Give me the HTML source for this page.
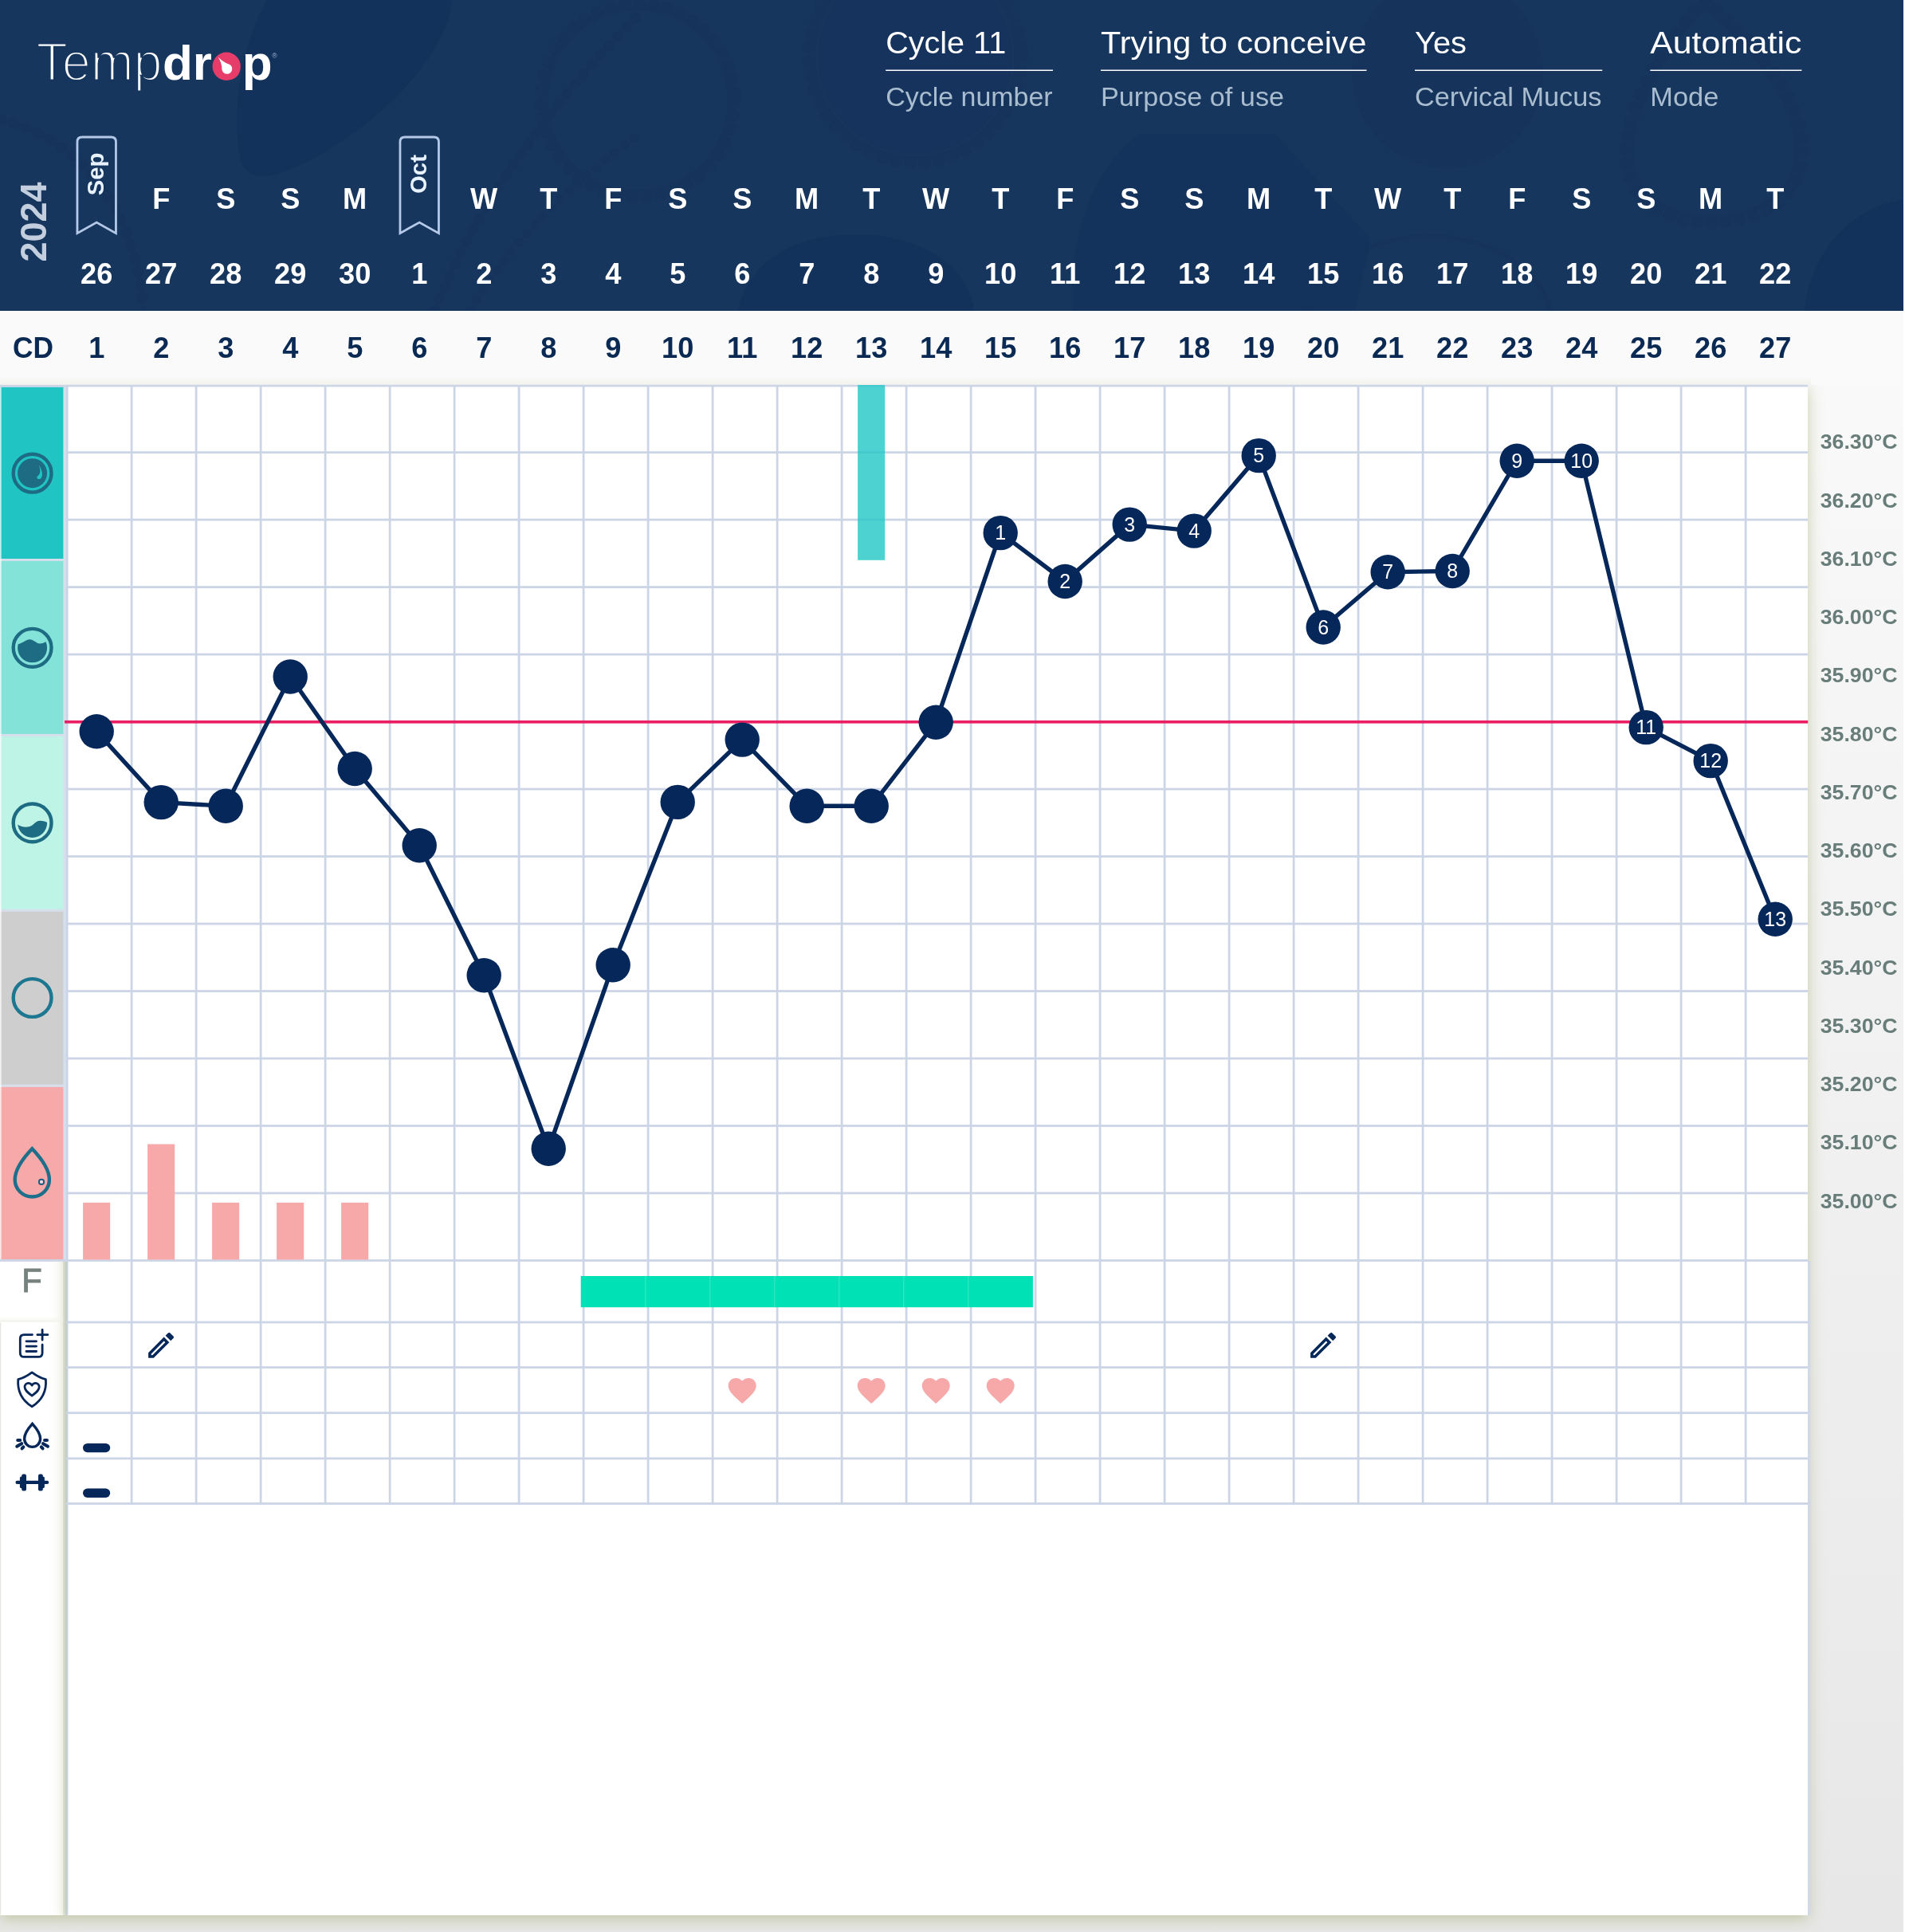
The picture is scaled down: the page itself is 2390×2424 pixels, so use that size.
<!DOCTYPE html>
<html lang="en">
<head>
<meta charset="utf-8">
<title>Tempdrop chart</title>
<style>
html,body{margin:0;padding:0;}
body{width:2390px;height:2424px;overflow:hidden;background:#fff;font-family:'Liberation Sans', sans-serif;position:relative;}
#page{position:absolute;left:0;top:0;width:2388.2px;height:2424px;background:linear-gradient(180deg,#fafafa 0px,#fafafa 389px,#e7e7e7 2424px);overflow:hidden;}
#hdr{position:absolute;left:0;top:0;width:2388.2px;height:389.5px;background:#17365e;overflow:hidden;}
#leftcol{position:absolute;left:0;top:483px;width:84px;height:1919.8px;background:#fff;box-shadow:0 4px 18px rgba(140,150,60,0.42);}
#chart{position:absolute;left:83.8px;top:483px;width:2184.4px;height:1919.8px;background:#fff;box-shadow:0 4px 18px rgba(140,150,60,0.42);}
#cdrow{position:absolute;left:0;top:389.5px;width:2388.2px;height:93.5px;background:#fafafa;}
#ov{position:absolute;left:0;top:0;}
text{font-family:'Liberation Sans', sans-serif;}
.b{font-weight:700;}
</style>
</head>
<body>
<div id="page">
<div id="hdr">
<svg width="2389" height="390" viewBox="0 0 2389 390">
<g fill="#11305b" opacity="0.7">
<path d="M567 0 C 560 70 480 150 400 195 C 350 222 312 235 302 200 C 290 150 300 60 335 0 Z"/>
<path d="M926 390 C 940 320 1010 292 1080 294 C 1150 296 1215 330 1222 390 Z"/>
<path d="M1346 390 C 1340 300 1370 210 1430 168 L 1600 168 L 1720 300 L 1700 390 Z" opacity="0.6"/>
<path d="M2264 390 C 2270 320 2320 260 2389 250 L 2389 390 Z"/>
<circle cx="1148" cy="71" r="122" opacity="0.35"/>
</g>
<g fill="#15325a" opacity="0.6">
<circle cx="1816" cy="91" r="120"/>
</g>
<g fill="none" stroke="#14315a" stroke-linecap="round" opacity="0.45">
<path d="M545 390 C 600 250 700 120 800 20" stroke-width="13" stroke-dasharray="1 15"/>
<path d="M545 390 C 600 250 700 120 800 20" stroke-width="5"/>
<path d="M590 390 C 640 300 730 220 800 170" stroke-width="11" stroke-dasharray="1 14"/>
<circle cx="800" cy="126" r="122" stroke-width="15" stroke-dasharray="1 17"/>
<circle cx="800" cy="126" r="116" stroke-width="6"/>
<circle cx="1148" cy="71" r="134" stroke-width="15" stroke-dasharray="1 17"/>
<circle cx="1148" cy="71" r="128" stroke-width="6"/>
<path d="M2139 0 C 2080 60 2030 150 2040 210 C 2050 260 2100 282 2150 280 C 2210 278 2262 250 2262 190 C 2262 120 2200 50 2139 0 Z" stroke-width="15" stroke-dasharray="1 17"/>
<path d="M2139 8 C 2086 64 2038 150 2048 208 C 2058 254 2104 274 2150 272 C 2206 270 2254 244 2254 190 C 2254 124 2196 56 2139 8 Z" stroke-width="5"/>
<path d="M0 150 C 90 170 170 250 180 390" stroke-width="14" stroke-dasharray="1 16"/>
<path d="M0 150 C 90 170 170 250 180 390" stroke-width="5"/>
<path d="M1640 390 C 1660 330 1720 298 1790 296 C 1860 296 1930 330 1945 390" stroke-width="5"/>
</g>
</svg>
</div>
<div id="leftcol"></div>
<div id="chart"></div>
<div id="cdrow"></div>

<svg id="ov" width="2390" height="2424" viewBox="0 0 2390 2424">
<g id="logo">
<text x="45.4" y="101" font-size="67.7" fill="#ffffff" textLength="158.2" lengthAdjust="spacingAndGlyphs" stroke="#17365e" stroke-width="2.9" paint-order="fill">Temp</text>
<text x="203.9" y="99.6" font-size="62" font-weight="700" fill="#ffffff">dr<tspan fill="#e63c6a">o</tspan>p</text>
<circle cx="284.1" cy="83.2" r="17.6" fill="#e63c6a"/>
<circle cx="284.8" cy="86.4" r="6.4" fill="#ffffff"/>
<path d="M273.9 71.8 Q280.3 78.2 286.7 80.4 L278.6 86.6 Q278.3 79.8 273.9 71.8 Z" fill="#ffffff"/>
<text x="341.2" y="72.9" font-size="8.6" fill="#9fb3cf">®</text>
</g>
<text x="1111.2" y="67.2" font-size="39.5" fill="#ffffff" textLength="151.0" lengthAdjust="spacingAndGlyphs">Cycle 11</text>
<rect x="1111.2" y="87.5" width="209.8" height="1.5" fill="#ffffff"/>
<text x="1111.2" y="133.3" font-size="33.5" fill="#a9bdcf" textLength="209.5" lengthAdjust="spacingAndGlyphs">Cycle number</text>
<text x="1381.0" y="67.2" font-size="39.5" fill="#ffffff" textLength="333.4" lengthAdjust="spacingAndGlyphs">Trying to conceive</text>
<rect x="1381.0" y="87.5" width="333.5" height="1.5" fill="#ffffff"/>
<text x="1381.0" y="133.3" font-size="33.5" fill="#a9bdcf" textLength="230.0" lengthAdjust="spacingAndGlyphs">Purpose of use</text>
<text x="1775.0" y="67.2" font-size="39.5" fill="#ffffff" textLength="65.0" lengthAdjust="spacingAndGlyphs">Yes</text>
<rect x="1775.0" y="87.5" width="235.2" height="1.5" fill="#ffffff"/>
<text x="1775.0" y="133.3" font-size="33.5" fill="#a9bdcf" textLength="234.5" lengthAdjust="spacingAndGlyphs">Cervical Mucus</text>
<text x="2070.3" y="67.2" font-size="39.5" fill="#ffffff" textLength="190.0" lengthAdjust="spacingAndGlyphs">Automatic</text>
<rect x="2070.3" y="87.5" width="190.1" height="1.5" fill="#ffffff"/>
<text x="2070.3" y="133.3" font-size="33.5" fill="#a9bdcf" textLength="86.0" lengthAdjust="spacingAndGlyphs">Mode</text>
<text transform="translate(57.6 278.6) rotate(-90)" text-anchor="middle" font-size="46" class="b" fill="#c3cfdf" textLength="100" lengthAdjust="spacingAndGlyphs">2024</text>
<path d="M96.95 292.6 V178.00 Q96.95 172.0 102.95 172.0 H139.45 Q145.45 172.0 145.45 178.00 V292.6 L121.20 279.0 Z" fill="none" stroke="#b4c9e8" stroke-width="2.8" stroke-linejoin="miter"/>
<text transform="translate(129.60 218.5) rotate(-90)" text-anchor="middle" font-size="29.3" class="b" fill="#e8f3ff">Sep</text>
<path d="M501.95 292.6 V178.00 Q501.95 172.0 507.95 172.0 H544.45 Q550.45 172.0 550.45 178.00 V292.6 L526.20 279.0 Z" fill="none" stroke="#b4c9e8" stroke-width="2.8" stroke-linejoin="miter"/>
<text transform="translate(534.60 218.5) rotate(-90)" text-anchor="middle" font-size="29.3" class="b" fill="#e8f3ff">Oct</text>
<g class="b" font-size="36.2" text-anchor="middle" fill="#ffffff">
<text x="121.2" y="355.7">26</text>
<text x="202.2" y="262.3">F</text>
<text x="202.2" y="355.7">27</text>
<text x="283.2" y="262.3">S</text>
<text x="283.2" y="355.7">28</text>
<text x="364.2" y="262.3">S</text>
<text x="364.2" y="355.7">29</text>
<text x="445.2" y="262.3">M</text>
<text x="445.2" y="355.7">30</text>
<text x="526.2" y="355.7">1</text>
<text x="607.2" y="262.3">W</text>
<text x="607.2" y="355.7">2</text>
<text x="688.2" y="262.3">T</text>
<text x="688.2" y="355.7">3</text>
<text x="769.2" y="262.3">F</text>
<text x="769.2" y="355.7">4</text>
<text x="850.2" y="262.3">S</text>
<text x="850.2" y="355.7">5</text>
<text x="931.2" y="262.3">S</text>
<text x="931.2" y="355.7">6</text>
<text x="1012.2" y="262.3">M</text>
<text x="1012.2" y="355.7">7</text>
<text x="1093.2" y="262.3">T</text>
<text x="1093.2" y="355.7">8</text>
<text x="1174.2" y="262.3">W</text>
<text x="1174.2" y="355.7">9</text>
<text x="1255.2" y="262.3">T</text>
<text x="1255.2" y="355.7">10</text>
<text x="1336.2" y="262.3">F</text>
<text x="1336.2" y="355.7">11</text>
<text x="1417.2" y="262.3">S</text>
<text x="1417.2" y="355.7">12</text>
<text x="1498.2" y="262.3">S</text>
<text x="1498.2" y="355.7">13</text>
<text x="1579.2" y="262.3">M</text>
<text x="1579.2" y="355.7">14</text>
<text x="1660.2" y="262.3">T</text>
<text x="1660.2" y="355.7">15</text>
<text x="1741.2" y="262.3">W</text>
<text x="1741.2" y="355.7">16</text>
<text x="1822.2" y="262.3">T</text>
<text x="1822.2" y="355.7">17</text>
<text x="1903.2" y="262.3">F</text>
<text x="1903.2" y="355.7">18</text>
<text x="1984.2" y="262.3">S</text>
<text x="1984.2" y="355.7">19</text>
<text x="2065.2" y="262.3">S</text>
<text x="2065.2" y="355.7">20</text>
<text x="2146.2" y="262.3">M</text>
<text x="2146.2" y="355.7">21</text>
<text x="2227.2" y="262.3">T</text>
<text x="2227.2" y="355.7">22</text>
</g>
<defs><linearGradient id="ts" x1="0" x2="0" y1="0" y2="1"><stop offset="0" stop-color="rgb(140,150,60)" stop-opacity="0"/><stop offset="1" stop-color="rgb(140,150,60)" stop-opacity="0.07"/></linearGradient></defs>
<rect x="0" y="472" width="2272" height="11" fill="url(#ts)"/>
<g class="b" font-size="36.2" text-anchor="middle" fill="#0a2953">
<text x="41.5" y="449" textLength="51" lengthAdjust="spacingAndGlyphs">CD</text>
<text x="121.2" y="449">1</text>
<text x="202.2" y="449">2</text>
<text x="283.2" y="449">3</text>
<text x="364.2" y="449">4</text>
<text x="445.2" y="449">5</text>
<text x="526.2" y="449">6</text>
<text x="607.2" y="449">7</text>
<text x="688.2" y="449">8</text>
<text x="769.2" y="449">9</text>
<text x="850.2" y="449">10</text>
<text x="931.2" y="449">11</text>
<text x="1012.2" y="449">12</text>
<text x="1093.2" y="449">13</text>
<text x="1174.2" y="449">14</text>
<text x="1255.2" y="449">15</text>
<text x="1336.2" y="449">16</text>
<text x="1417.2" y="449">17</text>
<text x="1498.2" y="449">18</text>
<text x="1579.2" y="449">19</text>
<text x="1660.2" y="449">20</text>
<text x="1741.2" y="449">21</text>
<text x="1822.2" y="449">22</text>
<text x="1903.2" y="449">23</text>
<text x="1984.2" y="449">24</text>
<text x="2065.2" y="449">25</text>
<text x="2146.2" y="449">26</text>
<text x="2227.2" y="449">27</text>
</g>
<rect x="0" y="483" width="84" height="1099" fill="#d6dfec"/>
<rect x="0" y="485.7" width="79.4" height="215.3" fill="#20c5c3"/>
<rect x="0" y="703.9" width="79.4" height="217.0" fill="#84e3d8"/>
<rect x="0" y="923.9" width="79.4" height="216.9" fill="#bef4e5"/>
<rect x="0" y="1143.8" width="79.4" height="216.9" fill="#cecece"/>
<rect x="0" y="1363.8" width="79.4" height="216.3" fill="#f7a8a8"/>
<rect x="0" y="485.7" width="1.7" height="1094.3" fill="#ffffff" fill-opacity="0.72"/>
<rect x="82.9" y="483" width="2.6" height="1099" fill="#cbd4e6"/>
<rect x="83.7" y="1582" width="1.5" height="820.8" fill="#c6d1e3"/>
<rect x="85.2" y="1582" width="1" height="820.8" fill="#e6edf8"/>
<circle cx="40.6" cy="593.7" r="23.9" fill="none" stroke="#1e6b84" stroke-width="4.4"/>
<circle cx="40.6" cy="593.7" r="18.5" fill="#1e6b84"/>
<path d="M48.9 583.4 C53.6 590.7 54.6 598.7 50.1 600.9 C46.8 601.9 45.2 598.9 47.6 596.9 C51.1 594.2 50.9 589.7 48.9 583.4 Z" fill="#20c5c3"/>
<circle cx="40.6" cy="812.8" r="23.9" fill="none" stroke="#1e6b84" stroke-width="4.4"/>
<clipPath id="c2"><circle cx="40.6" cy="812.8" r="18.5"/></clipPath>
<path clip-path="url(#c2)" d="M20.6 808.8 C28.6 807.3 32.6 802.2 37.2 802.2 C42.1 802.2 45.6 807.4 49.8 807.4 C53.6 807.4 56.6 805.8 60.6 803.3 V832.8 H20.6 Z" fill="#1e6b84"/>
<circle cx="40.6" cy="1032.4" r="23.9" fill="none" stroke="#1e6b84" stroke-width="4.4"/>
<clipPath id="c3"><circle cx="40.6" cy="1032.4" r="18.5"/></clipPath>
<path clip-path="url(#c3)" d="M20.6 1033.4 C25.6 1037.4 30.6 1038.0 34.6 1037.6 C42.6 1036.6 43.6 1029.9 50.6 1029.8 C54.6 1029.8 57.6 1030.9 60.6 1032.9 V1052.4 H20.6 Z" fill="#1e6b84"/>
<circle cx="40.6" cy="1252.0" r="23.9" fill="none" stroke="#1d7791" stroke-width="4.4"/>
<path d="M40.3 1441.2 C 30 1452 18.7 1466 18.7 1480 C 18.7 1492 28.4 1501.5 40.3 1501.5 C 52.2 1501.5 61.9 1492 61.9 1480 C 61.9 1466 50.6 1452 40.3 1441.2 Z" fill="none" stroke="#1d6f8a" stroke-width="4.4" stroke-linejoin="miter"/>
<circle cx="52" cy="1482.9" r="3.1" fill="#fbdcd8" stroke="#1d5f80" stroke-width="2"/>
<defs><linearGradient id="fb" x1="0" x2="0" y1="0" y2="1"><stop offset="0" stop-color="#f4f4ec" stop-opacity="0"/><stop offset="1" stop-color="#f3f3ea" stop-opacity="1"/></linearGradient><linearGradient id="le" x1="0" x2="1" y1="0" y2="0"><stop offset="0" stop-color="#d9dbd3"/><stop offset="1" stop-color="#ffffff" stop-opacity="0"/></linearGradient></defs>
<rect x="0" y="1652" width="80" height="6.6" fill="url(#fb)"/>
<rect x="0" y="1659.2" width="2.6" height="743.6" fill="url(#le)"/>
<text x="40" y="1621" font-size="41.8" text-anchor="middle" fill="#76827f" stroke="#76827f" stroke-width="0.9">F</text>
<g fill="none" stroke="#062759" stroke-width="2.8" stroke-linecap="round" stroke-linejoin="round">
<path d="M40.5 1674.6 H30.3 Q25.3 1674.6 25.3 1679.6 V1697.4 Q25.3 1702.4 30.3 1702.4 H48.1 Q53.1 1702.4 53.1 1697.4 V1687.2"/>
<path d="M46.9 1674.7 H59.9 M53.1 1668.3 V1681.2"/>
<path d="M33 1682.8 H45.6 M33 1689.1 H45.6 M33 1695.5 H45.6"/>
<path d="M40.1 1721.9 C 34 1726.5 28 1729.3 22.8 1730.6 C 21.5 1746 27 1756.5 40.1 1764.8 C 53.2 1756.5 58.7 1746 57.4 1730.6 C 52.2 1729.3 46.2 1726.5 40.1 1721.9 Z"/>
<path d="M40.1 1751.2 C 35.5 1747.6 31 1744.6 31 1740.3 C 31 1737.3 33.2 1735.4 35.6 1735.4 C 37.5 1735.4 39.2 1736.5 40.1 1738.2 C 41 1736.5 42.7 1735.4 44.6 1735.4 C 47 1735.4 49.2 1737.3 49.2 1740.3 C 49.2 1744.6 44.7 1747.6 40.1 1751.2 Z"/>
</g>
<path d="M40.6 1786.3 C 35 1792.5 30.6 1798.5 30.6 1805 C 30.6 1810.8 35 1815.4 40.6 1815.4 C 46.2 1815.4 50.6 1810.8 50.6 1805 C 50.6 1798.5 46.2 1792.5 40.6 1786.3 Z" fill="none" stroke="#062759" stroke-width="3.4" stroke-linejoin="miter"/>
<g stroke="#062759" stroke-width="4" stroke-linecap="round" fill="none">
<path d="M22.2 1806.9 H25.2 M21.2 1814.8 L27.2 1811.2 M27.6 1817.4 L29.4 1815.4"/>
<path d="M59 1806.9 H56 M60 1814.8 L54 1811.2 M53.6 1817.4 L51.8 1815.4"/>
</g>
<g fill="#062759">
<rect x="19.5" y="1857.7" width="41.7" height="4.3" rx="2.1"/>
<rect x="27.2" y="1849.4" width="5.8" height="21.2" rx="2.2"/>
<rect x="24.9" y="1852.6" width="4" height="14.6" rx="2"/>
<rect x="48.0" y="1849.4" width="5.8" height="21.2" rx="2.2"/>
<rect x="51.9" y="1852.6" width="4" height="14.6" rx="2"/>
</g>
<defs><linearGradient id="ls" x1="0" x2="1" y1="0" y2="0"><stop offset="0" stop-color="rgb(140,150,60)" stop-opacity="0"/><stop offset="0.75" stop-color="rgb(140,150,60)" stop-opacity="0.05"/><stop offset="1" stop-color="rgb(130,140,70)" stop-opacity="0.2"/></linearGradient></defs>
<rect x="72" y="1582.5" width="11.8" height="820.3" fill="url(#ls)"/>
<rect x="79.2" y="1582.5" width="4.5" height="820.3" fill="rgb(150,170,170)" fill-opacity="0.28"/>
<g fill="#ccd5e6">
<rect x="0" y="482.80" width="2268.2" height="2.6"/>
<rect x="82.5" y="566.20" width="2185.7" height="2.8"/>
<rect x="82.5" y="650.69" width="2185.7" height="2.8"/>
<rect x="82.5" y="735.18" width="2185.7" height="2.8"/>
<rect x="82.5" y="819.67" width="2185.7" height="2.8"/>
<rect x="82.5" y="904.16" width="2185.7" height="2.8"/>
<rect x="82.5" y="988.65" width="2185.7" height="2.8"/>
<rect x="82.5" y="1073.14" width="2185.7" height="2.8"/>
<rect x="82.5" y="1157.63" width="2185.7" height="2.8"/>
<rect x="82.5" y="1242.12" width="2185.7" height="2.8"/>
<rect x="82.5" y="1326.61" width="2185.7" height="2.8"/>
<rect x="82.5" y="1411.10" width="2185.7" height="2.8"/>
<rect x="82.5" y="1495.59" width="2185.7" height="2.8"/>
<rect x="0" y="1580.08" width="2268.2" height="2.8"/>
<rect x="83" y="1657.60" width="2188.2" height="2.8"/>
<rect x="83" y="1714.20" width="2188.2" height="2.8"/>
<rect x="83" y="1771.30" width="2188.2" height="2.8"/>
<rect x="83" y="1828.50" width="2188.2" height="2.8"/>
<rect x="83" y="1885.10" width="2188.2" height="2.8"/>
<rect x="163.72" y="483" width="2.75" height="1404.9"/>
<rect x="244.72" y="483" width="2.75" height="1404.9"/>
<rect x="325.73" y="483" width="2.75" height="1404.9"/>
<rect x="406.73" y="483" width="2.75" height="1404.9"/>
<rect x="487.73" y="483" width="2.75" height="1404.9"/>
<rect x="568.73" y="483" width="2.75" height="1404.9"/>
<rect x="649.73" y="483" width="2.75" height="1404.9"/>
<rect x="730.73" y="483" width="2.75" height="1404.9"/>
<rect x="811.73" y="483" width="2.75" height="1404.9"/>
<rect x="892.73" y="483" width="2.75" height="1404.9"/>
<rect x="973.73" y="483" width="2.75" height="1404.9"/>
<rect x="1054.72" y="483" width="2.75" height="1404.9"/>
<rect x="1135.72" y="483" width="2.75" height="1404.9"/>
<rect x="1216.72" y="483" width="2.75" height="1404.9"/>
<rect x="1297.72" y="483" width="2.75" height="1404.9"/>
<rect x="1378.72" y="483" width="2.75" height="1404.9"/>
<rect x="1459.72" y="483" width="2.75" height="1404.9"/>
<rect x="1540.72" y="483" width="2.75" height="1404.9"/>
<rect x="1621.72" y="483" width="2.75" height="1404.9"/>
<rect x="1702.72" y="483" width="2.75" height="1404.9"/>
<rect x="1783.72" y="483" width="2.75" height="1404.9"/>
<rect x="1864.72" y="483" width="2.75" height="1404.9"/>
<rect x="1945.72" y="483" width="2.75" height="1404.9"/>
<rect x="2026.72" y="483" width="2.75" height="1404.9"/>
<rect x="2107.72" y="483" width="2.75" height="1404.9"/>
<rect x="2188.72" y="483" width="2.75" height="1404.9"/>
<rect x="2268.2" y="1582" width="3" height="820.8" fill="#d0d8ea"/>
</g>
<g fill="#f7a9a9">
<rect x="104.1" y="1508.9" width="34.1" height="71.5"/>
<rect x="185.1" y="1435.5" width="34.1" height="144.9"/>
<rect x="266.1" y="1508.9" width="34.1" height="71.5"/>
<rect x="347.1" y="1508.9" width="34.1" height="71.5"/>
<rect x="428.1" y="1508.9" width="34.1" height="71.5"/>
</g>
<rect x="1076.1" y="483" width="34.1" height="219.8" fill="#22c6c6" fill-opacity="0.8"/>
<rect x="728.7" y="1601" width="567.2" height="39.2" fill="#00e2b6"/>
<g fill="#3fe8c6">
<rect x="809.3" y="1601" width="1" height="39.2"/>
<rect x="890.3" y="1601" width="1" height="39.2"/>
<rect x="971.3" y="1601" width="1" height="39.2"/>
<rect x="1052.3" y="1601" width="1" height="39.2"/>
<rect x="1133.3" y="1601" width="1" height="39.2"/>
<rect x="1214.3" y="1601" width="1" height="39.2"/>
</g>
<rect x="81" y="903.9" width="2187.2" height="3.7" fill="#e91e63"/>
<polyline points="121.2,917.8 202.2,1006.6 283.2,1011.3 364.2,849.0 445.2,964.5 526.2,1060.7 607.2,1223.7 688.2,1441.2 769.2,1210.7 850.2,1006.4 931.2,928.1 1012.2,1011.3 1093.2,1011.3 1174.2,906.3 1255.2,668.6 1336.2,729.5 1417.2,658.1 1498.2,666.1 1579.2,571.6 1660.2,787.0 1741.2,717.7 1822.2,716.5 1903.2,578.2 1984.2,578.2 2065.2,912.6 2146.2,954.6 2227.2,1153.3" fill="none" stroke="#062759" stroke-width="5.4" stroke-linejoin="round"/>
<g fill="#062759">
<circle cx="121.2" cy="917.8" r="21.7"/>
<circle cx="202.2" cy="1006.6" r="21.7"/>
<circle cx="283.2" cy="1011.3" r="21.7"/>
<circle cx="364.2" cy="849.0" r="21.7"/>
<circle cx="445.2" cy="964.5" r="21.7"/>
<circle cx="526.2" cy="1060.7" r="21.7"/>
<circle cx="607.2" cy="1223.7" r="21.7"/>
<circle cx="688.2" cy="1441.2" r="21.7"/>
<circle cx="769.2" cy="1210.7" r="21.7"/>
<circle cx="850.2" cy="1006.4" r="21.7"/>
<circle cx="931.2" cy="928.1" r="21.7"/>
<circle cx="1012.2" cy="1011.3" r="21.7"/>
<circle cx="1093.2" cy="1011.3" r="21.7"/>
<circle cx="1174.2" cy="906.3" r="21.7"/>
<circle cx="1255.2" cy="668.6" r="21.7"/>
<circle cx="1336.2" cy="729.5" r="21.7"/>
<circle cx="1417.2" cy="658.1" r="21.7"/>
<circle cx="1498.2" cy="666.1" r="21.7"/>
<circle cx="1579.2" cy="571.6" r="21.7"/>
<circle cx="1660.2" cy="787.0" r="21.7"/>
<circle cx="1741.2" cy="717.7" r="21.7"/>
<circle cx="1822.2" cy="716.5" r="21.7"/>
<circle cx="1903.2" cy="578.2" r="21.7"/>
<circle cx="1984.2" cy="578.2" r="21.7"/>
<circle cx="2065.2" cy="912.6" r="21.7"/>
<circle cx="2146.2" cy="954.6" r="21.7"/>
<circle cx="2227.2" cy="1153.3" r="21.7"/>
</g>
<g font-size="25" text-anchor="middle" fill="#ffffff">
<text x="1255.2" y="677.3">1</text>
<text x="1336.2" y="738.2">2</text>
<text x="1417.2" y="666.8">3</text>
<text x="1498.2" y="674.8">4</text>
<text x="1579.2" y="580.3">5</text>
<text x="1660.2" y="795.7">6</text>
<text x="1741.2" y="726.4">7</text>
<text x="1822.2" y="725.2">8</text>
<text x="1903.2" y="586.9">9</text>
<text x="1984.2" y="586.9">10</text>
<text x="2065.2" y="921.3">11</text>
<text x="2146.2" y="963.3">12</text>
<text x="2227.2" y="1162.0">13</text>
</g>
<path transform="translate(180.8 1666.6) scale(1.772)" d="M14.06 9.02l.92.92L5.92 19H5v-.92l9.06-9.06M17.66 3c-.25 0-.51.1-.7.29l-1.83 1.83 3.75 3.75 1.83-1.83c.39-.39.39-1.02 0-1.41l-2.34-2.34c-.2-.2-.45-.29-.71-.29zm-3.6 3.19L3 17.25V21h3.75L17.81 9.94l-3.75-3.75z" fill="#062759"/>
<path transform="translate(1638.8 1666.6) scale(1.772)" d="M14.06 9.02l.92.92L5.92 19H5v-.92l9.06-9.06M17.66 3c-.25 0-.51.1-.7.29l-1.83 1.83 3.75 3.75 1.83-1.83c.39-.39.39-1.02 0-1.41l-2.34-2.34c-.2-.2-.45-.29-.71-.29zm-3.6 3.19L3 17.25V21h3.75L17.81 9.94l-3.75-3.75z" fill="#062759"/>
<path transform="translate(910.2 1723.7) scale(1.75)" d="M12 21.35l-1.45-1.32C5.4 15.36 2 12.28 2 8.5 2 5.42 4.42 3 7.5 3c1.74 0 3.41.81 4.5 2.09C13.09 3.81 14.76 3 16.5 3 19.58 3 22 5.42 22 8.5c0 3.78-3.4 6.86-8.55 11.54L12 21.35z" fill="#f7a8a8"/>
<path transform="translate(1072.2 1723.7) scale(1.75)" d="M12 21.35l-1.45-1.32C5.4 15.36 2 12.28 2 8.5 2 5.42 4.42 3 7.5 3c1.74 0 3.41.81 4.5 2.09C13.09 3.81 14.76 3 16.5 3 19.58 3 22 5.42 22 8.5c0 3.78-3.4 6.86-8.55 11.54L12 21.35z" fill="#f7a8a8"/>
<path transform="translate(1153.2 1723.7) scale(1.75)" d="M12 21.35l-1.45-1.32C5.4 15.36 2 12.28 2 8.5 2 5.42 4.42 3 7.5 3c1.74 0 3.41.81 4.5 2.09C13.09 3.81 14.76 3 16.5 3 19.58 3 22 5.42 22 8.5c0 3.78-3.4 6.86-8.55 11.54L12 21.35z" fill="#f7a8a8"/>
<path transform="translate(1234.2 1723.7) scale(1.75)" d="M12 21.35l-1.45-1.32C5.4 15.36 2 12.28 2 8.5 2 5.42 4.42 3 7.5 3c1.74 0 3.41.81 4.5 2.09C13.09 3.81 14.76 3 16.5 3 19.58 3 22 5.42 22 8.5c0 3.78-3.4 6.86-8.55 11.54L12 21.35z" fill="#f7a8a8"/>
<rect x="104.0" y="1810.9" width="34.2" height="11.3" rx="5.65" fill="#062759"/>
<rect x="104.0" y="1867.6" width="34.2" height="11.4" rx="5.7" fill="#062759"/>
<g class="b" font-size="26.4" fill="#687d79">
<text x="2283.7" y="563.2" textLength="96.8" lengthAdjust="spacingAndGlyphs">36.30°C</text>
<text x="2283.7" y="636.5" textLength="96.8" lengthAdjust="spacingAndGlyphs">36.20°C</text>
<text x="2283.7" y="709.7" textLength="96.8" lengthAdjust="spacingAndGlyphs">36.10°C</text>
<text x="2283.7" y="783.0" textLength="96.8" lengthAdjust="spacingAndGlyphs">36.00°C</text>
<text x="2283.7" y="856.3" textLength="96.8" lengthAdjust="spacingAndGlyphs">35.90°C</text>
<text x="2283.7" y="929.5" textLength="96.8" lengthAdjust="spacingAndGlyphs">35.80°C</text>
<text x="2283.7" y="1002.8" textLength="96.8" lengthAdjust="spacingAndGlyphs">35.70°C</text>
<text x="2283.7" y="1076.1" textLength="96.8" lengthAdjust="spacingAndGlyphs">35.60°C</text>
<text x="2283.7" y="1149.4" textLength="96.8" lengthAdjust="spacingAndGlyphs">35.50°C</text>
<text x="2283.7" y="1222.6" textLength="96.8" lengthAdjust="spacingAndGlyphs">35.40°C</text>
<text x="2283.7" y="1295.9" textLength="96.8" lengthAdjust="spacingAndGlyphs">35.30°C</text>
<text x="2283.7" y="1369.2" textLength="96.8" lengthAdjust="spacingAndGlyphs">35.20°C</text>
<text x="2283.7" y="1442.4" textLength="96.8" lengthAdjust="spacingAndGlyphs">35.10°C</text>
<text x="2283.7" y="1515.7" textLength="96.8" lengthAdjust="spacingAndGlyphs">35.00°C</text>
</g>
</svg>
</div>
</body>
</html>
